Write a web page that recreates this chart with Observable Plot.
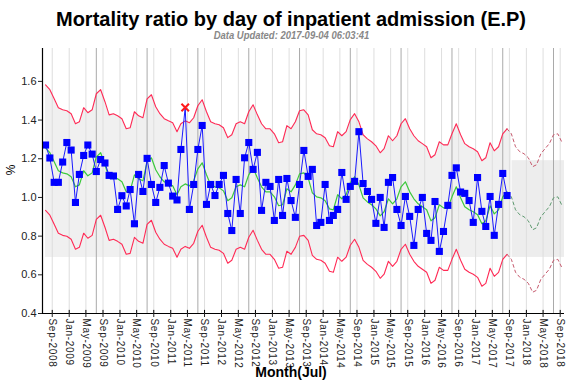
<!DOCTYPE html>
<html><head><meta charset="utf-8">
<script src="https://cdn.jsdelivr.net/npm/d3@7"></script>
<script src="https://cdn.jsdelivr.net/npm/@observablehq/plot@0.6"></script>
<style>
body{margin:0;background:#fff;font-family:"Liberation Sans",Arial,sans-serif;}
#wrap{position:relative;width:582px;height:388px;overflow:hidden;background:#fff}
#title{position:absolute;top:9px;left:0;width:582px;text-align:center;font-weight:bold;font-size:20px;line-height:20px;color:#000;white-space:nowrap}
#sub{position:absolute;top:30px;left:0;width:582px;text-align:center;font-size:11px;line-height:11px;color:#888;white-space:nowrap}
#sub span{display:inline-block;font-style:italic;font-weight:bold;transform:scaleX(0.86)}
#chart{position:absolute;top:40px;left:0}
#ylab{position:absolute;left:6px;top:163px;transform:rotate(-90deg);font-size:12px;color:#000}
#xlab{position:absolute;top:364px;left:0;width:582px;text-align:center;font-weight:bold;font-size:14px;color:#000}
#chart g[aria-label="x-axis tick label"] text{letter-spacing:0.7px}
</style></head>
<body>
<div id="wrap">
  <div id="title">Mortality ratio by day of inpatient admission (E.P)</div>
  <div id="sub"><span>Data Updated: 2017-09-04 06:03:41</span></div>
  <div id="chart"></div>
  <div id="ylab">%</div>
  <div id="xlab">Month(Jul)</div>
</div>
<script>
// first month of the series: July 2008 (monthly, plotted mid-month)
const startYear = 2008, startMonth = 6;

// observed mortality ratio, Jul 2008 .. Aug 2017
const ratio = [
  1.271,1.204,1.078,1.078,1.183,1.284,1.245,0.974,1.119,1.217,1.271,1.224,
  1.134,1.196,1.178,1.114,1.111,0.938,1.009,0.956,1.041,0.864,1.119,1.031,
  1.202,1.067,0.974,1.052,1.165,1.074,1.007,0.987,1.248,1.465,0.938,1.067,
  1.248,1.372,0.964,1.067,1.010,1.067,1.114,0.917,0.829,1.093,0.917,1.205,
  1.284,1.145,1.233,0.933,1.078,1.057,0.881,1.093,0.907,1.098,0.984,0.897,
  1.067,1.243,1.109,1.145,0.855,0.871,1.067,0.881,0.907,0.938,1.129,0.990,
  1.057,1.083,1.340,1.072,1.031,0.990,0.866,1.000,0.845,1.078,1.103,0.938,
  0.855,1.005,0.902,0.752,0.938,1.000,0.814,0.778,0.979,0.721,0.824,0.959,
  1.114,1.153,1.028,1.021,0.984,0.871,1.103,0.928,0.850,1.005,0.804,0.964,
  1.124,1.010
];

// expected value (green), Jul 2008 .. Sep 2018 (last 13 = forecast)
const expected = [
  1.256,1.231,1.184,1.138,1.127,1.122,1.107,1.055,1.065,1.138,1.112,1.127,
  1.210,1.231,1.169,1.101,1.107,1.096,1.081,1.029,1.034,1.117,1.096,1.086,
  1.184,1.205,1.143,1.107,1.081,1.070,1.060,1.014,1.055,1.070,1.060,1.086,
  1.148,1.179,1.117,1.065,1.055,1.050,1.034,0.983,0.998,1.055,1.065,1.055,
  1.117,1.153,1.101,1.055,1.029,1.029,1.003,0.957,0.962,1.045,1.029,1.065,
  1.122,1.127,1.101,1.024,1.003,0.998,0.983,0.941,0.936,1.014,0.993,1.014,
  1.076,1.107,1.065,0.998,0.977,0.962,0.941,0.905,0.926,0.993,0.967,0.993,
  1.055,1.081,1.029,0.993,0.967,0.952,0.936,0.879,0.895,0.962,0.946,0.946,
  1.003,1.055,0.998,0.952,0.936,0.926,0.910,0.864,0.879,0.957,0.915,0.936,
  1.003,1.029,
  1.003,0.936,0.910,0.900,0.879,0.833,0.843,0.900,0.926,0.952,0.998,1.003,0.957
];

// upper control limit (red)
const upper = [
  1.582,1.557,1.510,1.464,1.453,1.448,1.433,1.381,1.391,1.464,1.438,1.453,
  1.536,1.557,1.495,1.427,1.433,1.422,1.407,1.355,1.360,1.443,1.422,1.412,
  1.510,1.531,1.469,1.433,1.407,1.396,1.386,1.340,1.381,1.396,1.386,1.412,
  1.474,1.505,1.443,1.391,1.381,1.376,1.360,1.309,1.324,1.381,1.391,1.381,
  1.443,1.479,1.427,1.381,1.355,1.355,1.329,1.283,1.288,1.371,1.355,1.391,
  1.448,1.453,1.427,1.350,1.329,1.324,1.309,1.267,1.262,1.340,1.319,1.340,
  1.402,1.433,1.391,1.324,1.303,1.288,1.267,1.231,1.252,1.319,1.293,1.319,
  1.381,1.407,1.355,1.319,1.293,1.278,1.262,1.205,1.221,1.288,1.272,1.272,
  1.329,1.381,1.324,1.278,1.262,1.252,1.236,1.190,1.205,1.283,1.241,1.262,
  1.329,1.355,
  1.329,1.262,1.236,1.226,1.205,1.159,1.169,1.226,1.252,1.278,1.324,1.329,1.283
];

// lower control limit (red)
const lower = [
  0.933,0.908,0.861,0.815,0.804,0.799,0.784,0.732,0.742,0.815,0.789,0.804,
  0.887,0.908,0.846,0.778,0.784,0.773,0.758,0.706,0.711,0.794,0.773,0.763,
  0.861,0.882,0.820,0.784,0.758,0.747,0.737,0.691,0.732,0.747,0.737,0.763,
  0.825,0.856,0.794,0.742,0.732,0.727,0.711,0.660,0.675,0.732,0.742,0.732,
  0.794,0.830,0.778,0.732,0.706,0.706,0.680,0.634,0.639,0.722,0.706,0.742,
  0.799,0.804,0.778,0.701,0.680,0.675,0.660,0.618,0.613,0.691,0.670,0.691,
  0.753,0.784,0.742,0.675,0.654,0.639,0.618,0.582,0.603,0.670,0.644,0.670,
  0.732,0.758,0.706,0.670,0.644,0.629,0.613,0.556,0.572,0.639,0.623,0.623,
  0.680,0.732,0.675,0.629,0.613,0.603,0.587,0.541,0.556,0.634,0.592,0.613,
  0.680,0.706,
  0.680,0.613,0.587,0.577,0.556,0.510,0.520,0.577,0.603,0.629,0.675,0.680,0.634
];

const tickLabels = [
  "Sep-2008","Jan-2009","May-2009","Sep-2009","Jan-2010","May-2010","Sep-2010",
  "Jan-2011","May-2011","Sep-2011","Jan-2012","May-2012","Sep-2012","Jan-2013",
  "May-2013","Sep-2013","Jan-2014","May-2014","Sep-2014","Jan-2015","May-2015",
  "Sep-2015","Jan-2016","May-2016","Sep-2016","Jan-2017","May-2017","Sep-2017",
  "Jan-2018","May-2018","Sep-2018"
];
const yTicks = [0.4, 0.6, 0.8, 1.0, 1.2, 1.4, 1.6];
const yearStartLines = ["2009-07-15","2010-07-15","2011-07-15","2012-07-15","2013-07-15",
  "2014-07-15","2015-07-15","2016-07-15","2017-07-15","2018-07-15"];
const bandFloor = 0.69;
const forecastBox = {from: "2017-09-20", top: 1.19};

const dateOf = i => new Date(Date.UTC(startYear, startMonth + i, 15));
const all = expected.map((e, i) => ({date: dateOf(i), expected: e, upper: upper[i], lower: lower[i], i}));
const nObs = ratio.length;
const obs = ratio.map((r, i) => ({date: dateOf(i), ratio: r, upper: upper[i], lower: lower[i]}));
const solid = all.filter(d => d.i < nObs);
const dashed = all.filter(d => d.i >= nObs - 1);
const outOfLimits = obs.filter(d => d.ratio > d.upper || d.ratio < d.lower);
const inLimits = obs.filter(d => !(d.ratio > d.upper || d.ratio < d.lower));

const parse = d3.utcParse("%b-%Y");
const tickDates = tickLabels.map(parse);
const xDomain = [new Date(Date.UTC(2008, 5, 23)), new Date(Date.UTC(2018, 9, 2))];
const yDomain = [0.4, 1.77];

const chart = Plot.plot({
  width: 582, height: 348,
  marginTop: 8, marginLeft: 42, marginRight: 18, marginBottom: 75,
  style: {fontFamily: '"Liberation Sans", Arial, sans-serif', fontSize: "11px", background: "transparent", color: "#222"},
  x: {type: "utc", domain: xDomain, label: null},
  y: {domain: yDomain, label: null},
  marks: [
    Plot.areaY(all.filter(d => d.i <= nObs), {x: "date", y1: bandFloor, y2: "upper", fill: "#f0f0f0", curve: "linear"}),
    Plot.rect([forecastBox], {x1: d => new Date(d.from), x2: () => xDomain[1], y1: bandFloor, y2: d => d.top, fill: "#ededed"}),
    Plot.ruleX(tickDates, {x: d => d, y1: yDomain[0], y2: yDomain[1], stroke: "#dedede", strokeWidth: 1}),
    Plot.ruleX(yearStartLines, {x: d => new Date(d), y1: yDomain[0], y2: yDomain[1], stroke: "#aaaaaa", strokeWidth: 1}),
    Plot.line(solid, {x: "date", y: "upper", stroke: "#ff2a55", strokeWidth: 1.1}),
    Plot.line(solid, {x: "date", y: "lower", stroke: "#ff2a55", strokeWidth: 1.1}),
    Plot.line(dashed, {x: "date", y: "upper", stroke: "#c65a6e", strokeWidth: 1, strokeDasharray: "3,3"}),
    Plot.line(dashed, {x: "date", y: "lower", stroke: "#c65a6e", strokeWidth: 1, strokeDasharray: "3,3"}),
    Plot.line(solid, {x: "date", y: "expected", stroke: "#3cc83c", strokeWidth: 1.2}),
    Plot.line(dashed, {x: "date", y: "expected", stroke: "#5f9a70", strokeWidth: 1, strokeDasharray: "3,3"}),
    Plot.line(obs, {x: "date", y: "ratio", stroke: "#1a1aff", strokeWidth: 1}),
    Plot.dot(inLimits, {x: "date", y: "ratio", symbol: "square", r: 4, fill: "#0000ff", stroke: "none"}),
    Plot.dot(outOfLimits, {x: "date", y: "ratio", symbol: "times", r: 3.5, stroke: "#ff1a1a", strokeWidth: 2}),
    Plot.ruleX([xDomain[0]], {y1: yDomain[0], y2: yDomain[1], stroke: "#000", strokeWidth: 1.2}),
    Plot.ruleY([yDomain[0]], {stroke: "#000", strokeWidth: 1.2}),
    Plot.ruleX(tickDates, {x: d => d, y1: yDomain[0], y2: yDomain[0] + 0.016, stroke: "#000"}),
    Plot.axisY({ticks: yTicks, tickFormat: d3.format(".1f"), tickSize: 4, tickPadding: 2, fontSize: 11, label: null}),
    Plot.axisX({ticks: tickDates, tickFormat: d3.utcFormat("%b-%Y"), tickRotate: 90, tickSize: 4, tickPadding: 1, fontSize: 10, label: null})
  ]
});
document.getElementById("chart").appendChild(chart);
</script>
</body></html>
